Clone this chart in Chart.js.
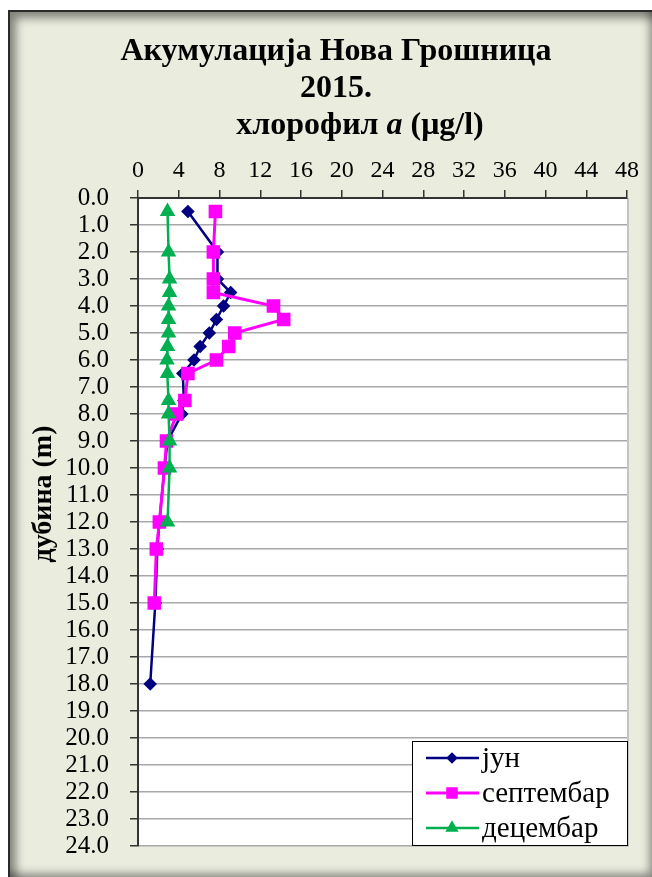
<!DOCTYPE html>
<html>
<head>
<meta charset="utf-8">
<script src="https://cdn.jsdelivr.net/npm/chart.js@4.4.1/dist/chart.umd.min.js"></script>
<style>
  html, body { margin: 0; padding: 0; background: #fff; }
  #frame {
    position: absolute; left: 8px; top: 10px; width: 650px; height: 870px;
    box-sizing: border-box;
    background: #EAEDDE;
    border-top: 2px solid #2a2a2a; border-left: 2px solid #2a2a2a;
    box-shadow: inset 9px 9px 10px -3px rgba(0,0,0,0.45), inset -12px -10px 10px -4px rgba(0,0,0,0.45);
  }
  #chart { position: absolute; left: 0; top: 0; }
</style>
</head>
<body>
<div id="frame"></div>
<canvas id="chart" width="652" height="877"></canvas>
<script>
// dubina (m) i hlorofil a (µg/l) po mesecima
const depthJun = [0.5, 2, 3, 3.5, 4, 4.5, 5, 5.5, 6, 6.5, 7.5, 8, 9, 10, 12, 13, 15, 18];
const chlJun = [4.9, 7.8, 7.8, 9.1, 8.4, 7.7, 7.0, 6.1, 5.5, 4.4, 4.5, 4.3, 2.9, 2.6, 2.1, 1.9, 1.7, 1.2];

const depthSep = [0.5, 2, 3, 3.5, 4, 4.5, 5, 5.5, 6, 6.5, 7.5, 8, 9, 10, 12, 13, 15];
const chlSep = [7.6, 7.4, 7.4, 7.4, 13.3, 14.3, 9.5, 8.9, 7.7, 4.9, 4.6, 3.8, 2.8, 2.6, 2.1, 1.8, 1.6];

const depthDec = [0.5, 2, 3, 3.5, 4, 4.5, 5, 5.5, 6, 6.5, 7.5, 8, 9, 10, 12];
const chlDec = [2.9, 3.0, 3.1, 3.1, 3.0, 3.0, 3.0, 2.9, 2.85, 2.9, 3.0, 3.0, 3.1, 3.1, 2.9];

const seriesNames = ['јун', 'септембар', 'децембар'];
const xTicks = [0, 4, 8, 12, 16, 20, 24, 28, 32, 36, 40, 44, 48];
const yTicks = [0, 1, 2, 3, 4, 5, 6, 7, 8, 9, 10, 11, 12, 13, 14, 15, 16, 17, 18, 19, 20, 21, 22, 23, 24];

const titleLines = ['Акумулација Нова Грошница', '2015.'];
const yTitle = 'дубина (m)';

function pairs(xs, ys) {
    return xs.map((d, i) => ({ x: ys[i], y: d }));
}

const serif = "'Liberation Serif', 'Times New Roman', serif";

const decor = {
    id: 'decor',
    beforeDraw(chart) {
        const { ctx, chartArea: a } = chart;
        ctx.save();
        ctx.fillStyle = '#fff';
        ctx.fillRect(a.left, a.top, a.right - a.left, a.bottom - a.top);
        ctx.strokeStyle = '#c4c4c4';
        ctx.lineWidth = 2;
        ctx.beginPath();
        ctx.moveTo(a.right + 1, a.top);
        ctx.lineTo(a.right + 1, a.bottom + 1);
        ctx.stroke();
        ctx.restore();
    },
    afterDraw(chart) {
        const { ctx } = chart;
        ctx.save();
        ctx.fillStyle = '#000';
        ctx.textAlign = 'center';
        ctx.textBaseline = 'alphabetic';
        ctx.font = 'bold 32px ' + serif;
        ctx.fillText(titleLines[0], 336, 60);
        ctx.fillText(titleLines[1], 336, 97);

        // treci red: hlorofil a (µg/l), "a" kurzivom
        const p1 = 'хлорофил ', p2 = 'a', p3 = ' (μg/l)';
        const fB = 'bold 32px ' + serif, fI = 'italic bold 32px ' + serif;
        ctx.font = fB; const w1 = ctx.measureText(p1).width, w3 = ctx.measureText(p3).width;
        ctx.font = fI; const w2 = ctx.measureText(p2).width;
        let x = 360 - (w1 + w2 + w3) / 2;
        ctx.textAlign = 'left';
        ctx.font = fB; ctx.fillText(p1, x, 134); x += w1;
        ctx.font = fI; ctx.fillText(p2, x, 134); x += w2;
        ctx.font = fB; ctx.fillText(p3, x, 134);

        // naslov y ose
        ctx.save();
        ctx.translate(44, 494);
        ctx.rotate(-Math.PI / 2);
        ctx.textAlign = 'center';
        ctx.textBaseline = 'middle';
        ctx.font = 'bold 28px ' + serif;
        ctx.fillText(yTitle, 0, 0);
        ctx.restore();

        // legenda
        const bx = 412, by = 741, bw = 215, bh = 104;
        ctx.fillStyle = '#fff';
        ctx.fillRect(bx, by, bw, bh);
        ctx.strokeStyle = '#000';
        ctx.lineWidth = 1;
        ctx.strokeRect(bx + 0.5, by + 0.5, bw, bh);
        chart.data.datasets.forEach((ds, i) => {
            const ry = by + 17 + i * 35;
            ctx.strokeStyle = ds.borderColor;
            ctx.lineWidth = ds.borderWidth;
            ctx.beginPath();
            ctx.moveTo(426, ry);
            ctx.lineTo(479, ry);
            ctx.stroke();
            Chart.helpers.drawPoint(ctx, {
                pointStyle: ds.pointStyle,
                radius: ds.pointRadius * 0.8,
                borderWidth: 1
            }, 452, ry);
            ctx.fillStyle = ds.pointBackgroundColor;
            ctx.strokeStyle = ds.pointBorderColor;
            ctx.fill();
            ctx.fillStyle = '#000';
            ctx.textAlign = 'left';
            ctx.textBaseline = 'middle';
            ctx.font = '29px ' + serif;
            ctx.fillText(ds.label, 482, ry + 1);
        });
        ctx.restore();
    }
};

const colors = ['#000080', '#FF00FF', '#00B050'];
const styles = ['rectRot', 'rect', 'triangle'];
const radii = [5, 7.5, 6.5];
const widths = [2.5, 3, 2.5];
const data = [pairs(depthJun, chlJun), pairs(depthSep, chlSep), pairs(depthDec, chlDec)];

new Chart(document.getElementById('chart'), {
    type: 'scatter',
    data: {
        datasets: seriesNames.map((name, i) => ({
            label: name,
            data: data[i],
            showLine: true,
            borderColor: colors[i],
            backgroundColor: colors[i],
            pointBackgroundColor: colors[i],
            pointBorderColor: colors[i],
            borderWidth: widths[i],
            pointStyle: styles[i],
            pointRadius: radii[i],
            pointHoverRadius: radii[i],
            order: 3 - i
        }))
    },
    options: {
        responsive: false,
        animation: false,
        devicePixelRatio: 1,
        layout: { padding: { left: 0, top: 0, right: 25, bottom: 31 } },
        plugins: { legend: { display: false }, tooltip: { enabled: false } },
        scales: {
            x: {
                type: 'linear',
                position: 'top',
                min: 0, max: 48,
                afterBuildTicks: s => { s.ticks = xTicks.map(v => ({ value: v })); },
                afterFit: s => { s.height = 198; s.paddingLeft = 0; s.paddingRight = 0; },
                grid: { drawOnChartArea: false, drawTicks: true, tickLength: 8, tickColor: '#333', lineWidth: 1.5 },
                border: { color: '#333', width: 2 },
                ticks: { color: '#000', font: { family: serif, size: 24 }, padding: 5, maxRotation: 0 }
            },
            y: {
                type: 'linear',
                reverse: true,
                min: 0, max: 24,
                afterBuildTicks: s => { s.ticks = yTicks.map(v => ({ value: v })); },
                afterFit: s => { s.width = 138; s.paddingTop = 0; s.paddingBottom = 0; },
                grid: { color: '#a8a8a8', lineWidth: 1.5, tickLength: 8, tickColor: '#333' },
                border: { color: '#333', width: 2 },
                ticks: {
                    color: '#000', font: { family: serif, size: 25 }, padding: 21,
                    autoSkip: false,
                    callback: v => Number(v).toFixed(1)
                }
            }
        }
    },
    plugins: [decor]
});
</script>
</body>
</html>
